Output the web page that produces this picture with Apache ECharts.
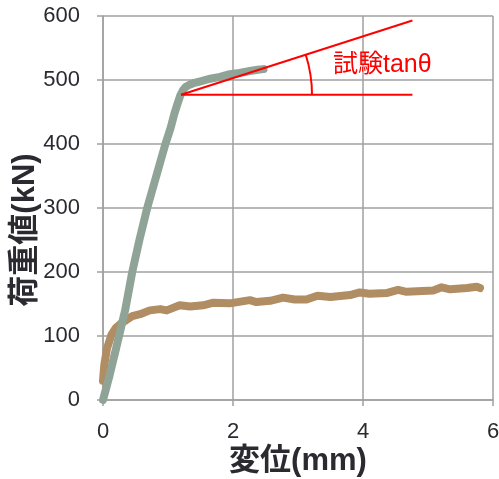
<!DOCTYPE html>
<html>
<head>
<meta charset="utf-8">
<script src="https://cdn.jsdelivr.net/npm/echarts@6/dist/echarts.min.js"></script>
<style>
  html, body { margin: 0; padding: 0; background: #fff; }
  #chart { width: 499px; height: 479px; }
</style>
</head>
<body>
<div id="chart"></div>
<script>
// Load test curve: elastic rise then hardening branch (mm, kN)
const testX = [0, 0.1, 0.2, 0.34, 0.45, 0.56, 0.68, 0.82, 0.96, 1.04, 1.1, 1.15, 1.19, 1.23, 1.27, 1.32, 1.39, 1.5, 1.65, 1.8, 1.95, 2.1, 2.26, 2.38, 2.47];
const testY = [0, 38, 80, 140, 200, 250, 300, 350, 400, 425, 448, 464, 476, 484, 489, 492, 495, 498, 502, 505, 509, 511, 514, 516, 517];

// Second specimen: early yield, long gentle plateau (mm, kN)
const softX = [0, 0.02, 0.06, 0.13, 0.2, 0.28, 0.36, 0.45, 0.57, 0.72, 0.88, 0.98, 1.18, 1.34, 1.54, 1.7, 1.95, 2.26, 2.36, 2.57, 2.77, 2.95, 3.13, 3.3, 3.5, 3.8, 3.95, 4.1, 4.36, 4.54, 4.67, 5.08, 5.21, 5.34, 5.6, 5.75, 5.8];
const softY = [30, 55, 80, 102, 113, 120, 125, 131, 134, 140, 142, 140, 148, 146, 148, 152, 151, 156, 153, 155, 160, 157, 157, 163, 161, 164, 168, 166, 167, 172, 169, 171, 176, 173, 175, 177, 175];

// Tangent construction: yield point, horizontal reference and post-yield slope line
const yieldPt = [1.2, 477];
const refEndX = 4.76;
const slopeEndY = 593;

// Axis ticks
const xTicks = { min: 0, max: 6, interval: 2 };
const yTicks = { min: 0, max: 600, interval: 100 };

const pairs = (xs, ys) => xs.map((x, i) => [x, ys[i]]);

const FONT = '"Liberation Sans", "Noto Sans CJK JP", sans-serif';
const GRID_COLOR = '#a0a0a0';
const TEXT_COLOR = '#2a2a30';

const chart = echarts.init(document.getElementById('chart'), null, { renderer: 'canvas' });

chart.setOption({
  animation: false,
  grid: { left: 103, right: 6, top: 16, bottom: 79, containLabel: false, outerBoundsMode: 'none' },
  xAxis: {
    type: 'value',
    min: xTicks.min, max: xTicks.max, interval: xTicks.interval,
    name: '変位(mm)',
    nameLocation: 'middle',
    nameGap: 46,
    nameMoveOverlap: false,
    nameTextStyle: { fontFamily: FONT, fontSize: 31, fontWeight: 'bold', color: TEXT_COLOR },
    axisLine: { show: true, lineStyle: { color: GRID_COLOR, width: 1.5 } },
    axisTick: { show: true, length: 6, lineStyle: { color: GRID_COLOR, width: 1.5 } },
    axisLabel: { margin: 21, fontFamily: FONT, fontSize: 22, color: TEXT_COLOR },
    splitLine: { show: true, lineStyle: { color: GRID_COLOR, width: 1.5 } }
  },
  yAxis: {
    type: 'value',
    min: yTicks.min, max: yTicks.max, interval: yTicks.interval,
    name: '荷重値(kN)',
    nameLocation: 'middle',
    nameGap: 62,
    nameMoveOverlap: false,
    nameTextStyle: { fontFamily: FONT, fontSize: 31, fontWeight: 'bold', color: TEXT_COLOR, padding: [0, 44, 0, 0] },
    axisLine: { show: true, lineStyle: { color: GRID_COLOR, width: 1.5 } },
    axisTick: { show: true, length: 6, lineStyle: { color: GRID_COLOR, width: 1.5 } },
    axisLabel: { margin: 23, fontFamily: FONT, fontSize: 22, color: TEXT_COLOR },
    splitLine: { show: true, lineStyle: { color: GRID_COLOR, width: 1.5 } }
  },
  series: [
    {
      type: 'line',
      data: pairs(softX, softY),
      showSymbol: false,
      lineStyle: { color: '#b08d62', width: 8, cap: 'round', join: 'round' },
      z: 2
    },
    {
      type: 'line',
      data: pairs(testX, testY),
      showSymbol: false,
      lineStyle: { color: '#8fa397', width: 8, cap: 'round', join: 'round' },
      z: 3
    },
    {
      type: 'line',
      data: [yieldPt, [refEndX, yieldPt[1]]],
      showSymbol: false,
      lineStyle: { color: '#ff0000', width: 2 },
      z: 4
    },
    {
      type: 'line',
      data: [yieldPt, [refEndX, slopeEndY]],
      showSymbol: false,
      lineStyle: { color: '#ff0000', width: 2 },
      z: 4
    },
    {
      // Angle arc between the two red lines, with its caption
      type: 'custom',
      data: [yieldPt],
      z: 5,
      renderItem: function (params, api) {
        const c = api.coord([api.value(0), api.value(1)]);
        const e = api.coord([refEndX, slopeEndY]);
        const theta = Math.atan2(c[1] - e[1], e[0] - c[0]);
        const r = 131;
        return {
          type: 'group',
          children: [
            {
              type: 'arc',
              shape: { cx: c[0], cy: c[1], r: r, startAngle: -theta, endAngle: 0, clockwise: true },
              style: { stroke: '#ff0000', lineWidth: 2, fill: null }
            },
            {
              type: 'text',
              x: c[0] + r + 21,
              y: c[1] - 30,
              style: {
                text: '試験tanθ',
                fill: '#ff0000',
                font: '25px ' + FONT,
                textAlign: 'left',
                textVerticalAlign: 'middle'
              }
            }
          ]
        };
      }
    }
  ]
});
</script>
</body>
</html>
